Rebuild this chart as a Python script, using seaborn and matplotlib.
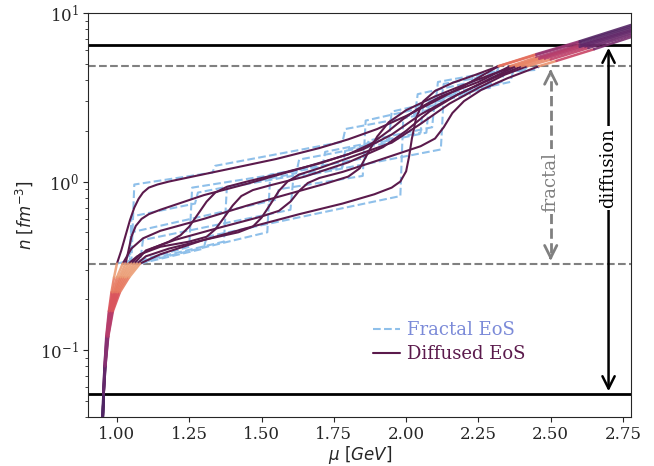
import numpy as np
import pandas as pd
import matplotlib
matplotlib.use("Agg")
import matplotlib.pyplot as plt
import seaborn as sns
from matplotlib.collections import LineCollection
from matplotlib.lines import Line2D

# ---------------- data ----------------
N_FRAC_LO, N_FRAC_HI = 0.326, 4.84
N_DIFF_LO, N_DIFF_HI = 0.0548, 6.46

# Fractal EoS (step-like)
F1_mu = [1.00, 1.05, 1.06, 1.33, 1.34, 1.78, 1.79, 2.03, 2.04, 2.31, 2.32]
F1_n = [0.326, 0.34, 0.96, 1.13, 1.24, 1.72, 2.05, 2.45, 3.3, 4.2, 4.84]
F2_mu = [1.03, 1.045, 1.05, 1.27, 1.28, 1.62, 1.63, 1.94, 1.95, 2.22, 2.23, 2.35, 2.36]
F2_n = [0.326, 0.34, 0.62, 0.74, 0.86, 1.12, 1.35, 1.7, 2.6, 3.3, 4.2, 4.5, 4.84]
F3_mu = [1.04, 1.25, 1.26, 1.71, 1.72, 2.05, 2.06, 2.29, 2.30, 2.37, 2.38]
F3_n = [0.326, 0.41, 0.92, 1.22, 1.5, 1.95, 3.0, 3.6, 4.5, 4.6, 4.84]
F4_mu = [1.05, 1.37, 1.38, 1.78, 1.79, 2.07, 2.08, 2.28, 2.29, 2.39, 2.40]
F4_n = [0.326, 0.44, 0.92, 1.22, 1.55, 1.95, 3.0, 3.6, 4.4, 4.6, 4.84]
F5_mu = [1.07, 1.52, 1.53, 1.86, 1.87, 2.09, 2.10, 2.33, 2.34, 2.41, 2.42]
F5_n = [0.326, 0.50, 1.10, 1.38, 1.75, 2.1, 3.2, 3.9, 4.5, 4.6, 4.84]
F6_mu = [1.08, 1.30, 1.31, 1.98, 1.99, 2.10, 2.11, 2.31, 2.32]
F6_n = [0.326, 0.40, 0.47, 0.82, 2.4, 2.75, 3.9, 4.5, 4.84]
F7_mu = [1.02, 1.04, 1.05, 1.55, 1.56, 1.85, 1.86, 2.12, 2.13, 2.37, 2.38]
F7_n = [0.326, 0.33, 0.50, 0.78, 0.90, 1.08, 2.3, 2.9, 3.8, 4.5, 4.84]
F8_mu = [1.06, 1.08, 1.09, 1.60, 1.61, 2.12, 2.13, 2.36, 2.37, 2.45, 2.46]
F8_n = [0.326, 0.33, 0.45, 0.68, 1.05, 1.55, 3.2, 3.9, 4.5, 4.6, 4.84]

# Diffused EoS (inside fractal range)
D1_mu = [1.00, 1.015, 1.03, 1.045, 1.06, 1.075, 1.09, 1.11, 1.14, 1.18, 1.25, 1.40, 1.55, 1.70, 1.80, 1.90, 2.00, 2.10, 2.20, 2.32]
D1_n = [0.326, 0.39, 0.48, 0.59, 0.70, 0.79, 0.86, 0.92, 0.96, 1.0, 1.06, 1.2, 1.36, 1.58, 1.78, 2.05, 2.45, 3.0, 3.7, 4.84]
D2_mu = [1.03, 1.04, 1.05, 1.065, 1.085, 1.11, 1.15, 1.30, 1.45, 1.66, 1.80, 1.88, 1.94, 1.99, 2.04, 2.12, 2.25, 2.36]
D2_n = [0.326, 0.39, 0.47, 0.545, 0.60, 0.64, 0.68, 0.83, 0.97, 1.23, 1.45, 1.68, 2.0, 2.35, 2.7, 3.2, 3.9, 4.84]
D3_mu = [1.04, 1.07, 1.12, 1.18, 1.22, 1.25, 1.28, 1.31, 1.34, 1.38, 1.45, 1.55, 1.70, 1.85, 1.95, 2.05, 2.15, 2.28, 2.38]
D3_n = [0.326, 0.36, 0.40, 0.44, 0.48, 0.54, 0.64, 0.76, 0.86, 0.93, 1.0, 1.1, 1.28, 1.55, 1.9, 2.5, 3.1, 4.0, 4.84]
D4_mu = [1.05, 1.08, 1.15, 1.25, 1.31, 1.34, 1.37, 1.40, 1.43, 1.47, 1.53, 1.65, 1.80, 1.92, 2.00, 2.08, 2.18, 2.30, 2.40]
D4_n = [0.326, 0.37, 0.41, 0.44, 0.47, 0.52, 0.61, 0.72, 0.82, 0.89, 0.95, 1.07, 1.3, 1.6, 2.0, 2.6, 3.3, 4.1, 4.84]
D5_mu = [1.07, 1.10, 1.18, 1.30, 1.42, 1.47, 1.50, 1.53, 1.56, 1.59, 1.63, 1.70, 1.80, 1.95, 2.05, 2.15, 2.25, 2.34, 2.42]
D5_n = [0.326, 0.36, 0.40, 0.45, 0.50, 0.54, 0.61, 0.73, 0.88, 1.0, 1.1, 1.2, 1.38, 1.7, 2.2, 2.9, 3.6, 4.3, 4.84]
D6_mu = [1.08, 1.15, 1.30, 1.45, 1.63, 1.78, 1.89, 1.95, 1.98, 2.00, 2.01, 2.02, 2.035, 2.06, 2.10, 2.16, 2.24, 2.32]
D6_n = [0.326, 0.37, 0.45, 0.53, 0.64, 0.74, 0.84, 0.92, 1.0, 1.15, 1.4, 1.8, 2.4, 3.0, 3.45, 3.85, 4.3, 4.84]
D7_mu = [1.02, 1.05, 1.09, 1.15, 1.30, 1.45, 1.60, 1.72, 1.80, 1.84, 1.87, 1.90, 1.94, 2.00, 2.10, 2.20, 2.30, 2.38]
D7_n = [0.326, 0.40, 0.46, 0.51, 0.60, 0.72, 0.85, 0.97, 1.07, 1.2, 1.5, 1.85, 2.25, 2.65, 3.2, 3.75, 4.35, 4.84]
D8_mu = [1.06, 1.10, 1.20, 1.35, 1.50, 1.56, 1.60, 1.63, 1.66, 1.70, 1.78, 1.90, 2.05, 2.10, 2.13, 2.16, 2.20, 2.26, 2.35, 2.46]
D8_n = [0.326, 0.39, 0.45, 0.53, 0.62, 0.67, 0.76, 0.88, 0.98, 1.05, 1.14, 1.33, 1.62, 1.8, 2.1, 2.55, 3.0, 3.5, 4.1, 4.84]

# Diffused EoS, low-density tails (shared n levels)
LOW_n = [0.04, 0.055, 0.08, 0.12, 0.17, 0.22, 0.27, 0.326]
L1_mu = [0.951, 0.953, 0.957, 0.963, 0.972, 0.981, 0.990, 1.00]
L2_mu = [0.951, 0.953, 0.958, 0.965, 0.976, 0.990, 1.008, 1.03]
L3_mu = [0.951, 0.954, 0.958, 0.966, 0.978, 0.993, 1.014, 1.04]
L4_mu = [0.951, 0.954, 0.959, 0.967, 0.980, 0.997, 1.020, 1.05]
L5_mu = [0.951, 0.954, 0.960, 0.969, 0.984, 1.005, 1.034, 1.07]
L6_mu = [0.951, 0.954, 0.960, 0.970, 0.986, 1.010, 1.042, 1.08]
L7_mu = [0.951, 0.953, 0.957, 0.964, 0.974, 0.985, 1.000, 1.02]
L8_mu = [0.951, 0.954, 0.959, 0.968, 0.982, 1.001, 1.027, 1.06]

# Diffused EoS, high-density tails
U1_mu = [2.32, 2.45, 2.60, 2.778]; U1_n = [4.84, 5.70, 6.80, 8.5]
U2_mu = [2.36, 2.45, 2.60, 2.778]; U2_n = [4.84, 5.45, 6.50, 8.1]
U3_mu = [2.38, 2.46, 2.60, 2.778]; U3_n = [4.84, 5.40, 6.40, 7.9]
U4_mu = [2.40, 2.48, 2.62, 2.778]; U4_n = [4.84, 5.35, 6.30, 7.6]
U5_mu = [2.42, 2.50, 2.63, 2.778]; U5_n = [4.84, 5.30, 6.20, 7.4]
U6_mu = [2.32, 2.45, 2.60, 2.778]; U6_n = [4.84, 5.65, 6.70, 8.3]
U7_mu = [2.38, 2.46, 2.60, 2.778]; U7_n = [4.84, 5.35, 6.30, 7.8]
U8_mu = [2.46, 2.52, 2.65, 2.778]; U8_n = [4.84, 5.20, 6.10, 7.2]

x_ticks = [1.00, 1.25, 1.50, 1.75, 2.00, 2.25, 2.50, 2.75]

fractal = [(F1_mu, F1_n), (F2_mu, F2_n), (F3_mu, F3_n), (F4_mu, F4_n),
           (F5_mu, F5_n), (F6_mu, F6_n), (F7_mu, F7_n), (F8_mu, F8_n)]
diffused = [(D1_mu, D1_n), (D2_mu, D2_n), (D3_mu, D3_n), (D4_mu, D4_n),
            (D5_mu, D5_n), (D6_mu, D6_n), (D7_mu, D7_n), (D8_mu, D8_n)]
lows = [L1_mu, L2_mu, L3_mu, L4_mu, L5_mu, L6_mu, L7_mu, L8_mu]
ups = [(U1_mu, U1_n), (U2_mu, U2_n), (U3_mu, U3_n), (U4_mu, U4_n),
       (U5_mu, U5_n), (U6_mu, U6_n), (U7_mu, U7_n), (U8_mu, U8_n)]

df_frac = pd.concat([pd.DataFrame({"mu": m, "n": n, "curve": i}) for i, (m, n) in enumerate(fractal)])
df_diff = pd.concat([pd.DataFrame({"mu": m, "n": n, "curve": i}) for i, (m, n) in enumerate(diffused)])

# ---------------- style ----------------
sns.set_style("ticks")
plt.rcParams["font.family"] = ["DejaVu Serif"]
plt.rcParams.update({
    "xtick.labelsize": 12, "ytick.labelsize": 12,
    "xtick.major.size": 3.5, "ytick.major.size": 3.5,
    "xtick.minor.size": 2.0, "ytick.minor.size": 2.0,
    "xtick.major.pad": 3.0, "ytick.major.pad": 3.0,
})

FRAC_COLOR = "#8fc0ea"
DIFF_COLOR = "#5b1a4c"
cmap = sns.color_palette("flare", as_cmap=True)

fig, ax = plt.subplots(figsize=(6.54, 4.66), dpi=100)
fig.subplots_adjust(left=0.1346, right=0.965, bottom=0.105, top=0.972)
ax.set_yscale("log")

sns.lineplot(data=df_frac, x="mu", y="n", units="curve", estimator=None, sort=False,
             color=FRAC_COLOR, linestyle="--", lw=1.5, ax=ax, zorder=2)
sns.lineplot(data=df_diff, x="mu", y="n", units="curve", estimator=None, sort=False,
             color=DIFF_COLOR, lw=1.5, ax=ax, zorder=3)

# gradient tails (orange at the fractal boundary -> dark purple far away)
segs, cols = [], []
lo_span = np.log(N_FRAC_LO / 0.04)
hi_span = np.log(8.5 / N_FRAC_HI)
for lm in lows:
    for k in range(len(lm) - 1):
        segs.append([(lm[k], LOW_n[k]), (lm[k + 1], LOW_n[k + 1])])
        nm = np.sqrt(LOW_n[k] * LOW_n[k + 1])
        t = np.clip(np.log(nm / 0.04) / lo_span, 0, 1)
        cols.append(cmap(1.0 - t ** 1.6))
for um, un in ups:
    for k in range(len(um) - 1):
        segs.append([(um[k], un[k]), (um[k + 1], un[k + 1])])
        nm = np.sqrt(un[k] * un[k + 1])
        t = np.clip(1 - np.log(nm / N_FRAC_HI) / hi_span, 0, 1)
        cols.append(cmap(1.0 - t ** 2))
lc = LineCollection(segs, colors=cols, linewidths=1.8, alpha=0.9, zorder=3,
                    capstyle="round", joinstyle="round")
ax.add_collection(lc)

# reference lines
ax.axhline(N_DIFF_HI, color="black", lw=2, zorder=1)
ax.axhline(N_DIFF_LO, color="black", lw=2, zorder=1)
ax.axhline(N_FRAC_HI, color="gray", lw=1.5, ls="--", zorder=1)
ax.axhline(N_FRAC_LO, color="gray", lw=1.5, ls="--", zorder=1)

# fractal arrow
ax.plot([2.5, 2.5], [N_FRAC_LO * 1.15, N_FRAC_HI / 1.15], color="gray", lw=2, ls="--", zorder=4)
ax.annotate("", xy=(2.5, N_FRAC_HI), xytext=(2.5, N_FRAC_HI / 1.15),
            arrowprops=dict(arrowstyle="->", color="gray", lw=2, mutation_scale=22), zorder=4)
ax.annotate("", xy=(2.5, N_FRAC_LO), xytext=(2.5, N_FRAC_LO * 1.15),
            arrowprops=dict(arrowstyle="->", color="gray", lw=2, mutation_scale=22), zorder=4)
ax.text(2.5, 1.0, "fractal", rotation=90, color="gray", fontsize=13, ha="center", va="center",
        bbox=dict(facecolor="white", edgecolor="none", pad=1.5), zorder=5)

# diffusion arrow
ax.annotate("", xy=(2.70, N_DIFF_HI), xytext=(2.70, N_DIFF_LO),
            arrowprops=dict(arrowstyle="<->", color="black", lw=1.8, mutation_scale=22), zorder=4)
ax.text(2.70, 1.2, "diffusion", rotation=90, color="black", fontsize=13, ha="center", va="center",
        bbox=dict(facecolor="white", edgecolor="none", pad=1.5), zorder=5)

ax.set_xlim(0.9, 2.778)
ax.set_ylim(0.04, 10)
ax.set_xticks(x_ticks)
ax.set_xticklabels([f"{v:.2f}" for v in x_ticks])
ax.set_xlabel(r"$\mu$ $[GeV]$", fontsize=12, labelpad=1)
ax.set_ylabel(r"$n$ $[fm^{-3}]$", fontsize=12, labelpad=4)

handles = [Line2D([], [], color=FRAC_COLOR, ls="--", lw=1.5),
           Line2D([], [], color=DIFF_COLOR, lw=1.5)]
leg = ax.legend(handles, ["Fractal EoS", "Diffused EoS"], frameon=False, fontsize=13,
                loc="center", bbox_to_anchor=(0.665, 0.185), handlelength=1.5,
                handletextpad=0.4, labelspacing=0.35)
leg.get_texts()[0].set_color("#7b8ad8")
leg.get_texts()[1].set_color(DIFF_COLOR)

fig.savefig("out.png", dpi=100)
